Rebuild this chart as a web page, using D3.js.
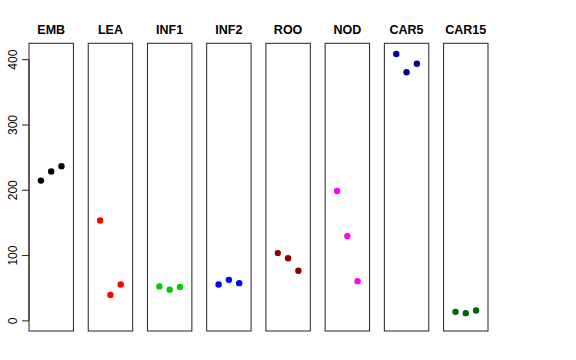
<!DOCTYPE html>
<html>
<head>
<meta charset="utf-8">
<script src="https://cdn.jsdelivr.net/npm/d3@7"></script>
<style>
  body { margin: 0; background: #fff; }
  svg { display: block; font-family: "Liberation Sans", Arial, sans-serif; }
</style>
</head>
<body>
<script>
// tissues and their colours
var tissues = ["EMB", "LEA", "INF1", "INF2", "ROO", "NOD", "CAR5", "CAR15"];
var colors = ["#000000", "#ff0000", "#00cd00", "#0000ff", "#8b0000", "#ff00ff", "#00008b", "#006400"];

// three replicates per tissue
var rep1 = [214, 153, 52, 55, 103, 198, 408, 13];
var rep2 = [228, 39, 47, 62, 95, 129, 380, 11];
var rep3 = [236, 55, 51, 57, 76, 60, 393, 15];

var yTicks = [0, 100, 200, 300, 400];

var width = 576, height = 360;

var svg = d3.select("body").append("svg")
    .attr("width", width)
    .attr("height", height);

// one panel per tissue
var panel = d3.scaleBand()
    .domain(tissues)
    .range([29, 488])
    .paddingInner(0.25);

// R-like 4% expansion of [0, max]
var yMax = d3.max([rep1, rep2, rep3], function(r) { return d3.max(r); });
var pad = yMax * 0.04;
var y = d3.scaleLinear()
    .domain([-pad, yMax + pad])
    .range([331, 43.3]);

var x = d3.scaleLinear()
    .domain([-0.16, 4.16])
    .range([0, panel.bandwidth()]);

tissues.forEach(function(t, i) {
    var g = svg.append("g")
        .attr("transform", "translate(" + panel(t) + ",0)");

    g.append("rect")
        .attr("x", 0)
        .attr("y", y.range()[1])
        .attr("width", panel.bandwidth())
        .attr("height", y.range()[0] - y.range()[1])
        .attr("fill", "none")
        .attr("stroke", "#222")
        .attr("stroke-width", 1);

    g.append("text")
        .attr("x", panel.bandwidth() / 2)
        .attr("y", 33.5)
        .attr("text-anchor", "middle")
        .attr("font-weight", "bold")
        .attr("font-size", 12.5)
        .text(t);

    var vals = [rep1[i], rep2[i], rep3[i]];
    g.selectAll("circle")
        .data(vals)
        .enter()
        .append("circle")
        .attr("cx", function(d, j) { return x(j + 1); })
        .attr("cy", function(d) { return y(d); })
        .attr("r", 3.2)
        .attr("fill", colors[i]);
});

// left axis
var axis = svg.append("g")
    .attr("transform", "translate(" + panel(tissues[0]) + ",0)")
    .call(d3.axisLeft(y).tickValues(yTicks).tickSize(7).tickPadding(0).tickFormat(d3.format("d")));

axis.select(".domain")
    .attr("d", "M0," + y(0) + "V" + y(400))
    .attr("stroke", "#222");
axis.selectAll(".tick line").attr("stroke", "#222");
axis.selectAll(".tick text")
    .attr("font-size", 12)
    .attr("font-family", "Liberation Sans, Arial, sans-serif")
    .attr("fill", "#000")
    .attr("text-anchor", "middle")
    .attr("x", null)
    .attr("transform", "translate(-11,0) rotate(-90)")
    .attr("dy", "-0.1em");
</script>
</body>
</html>
